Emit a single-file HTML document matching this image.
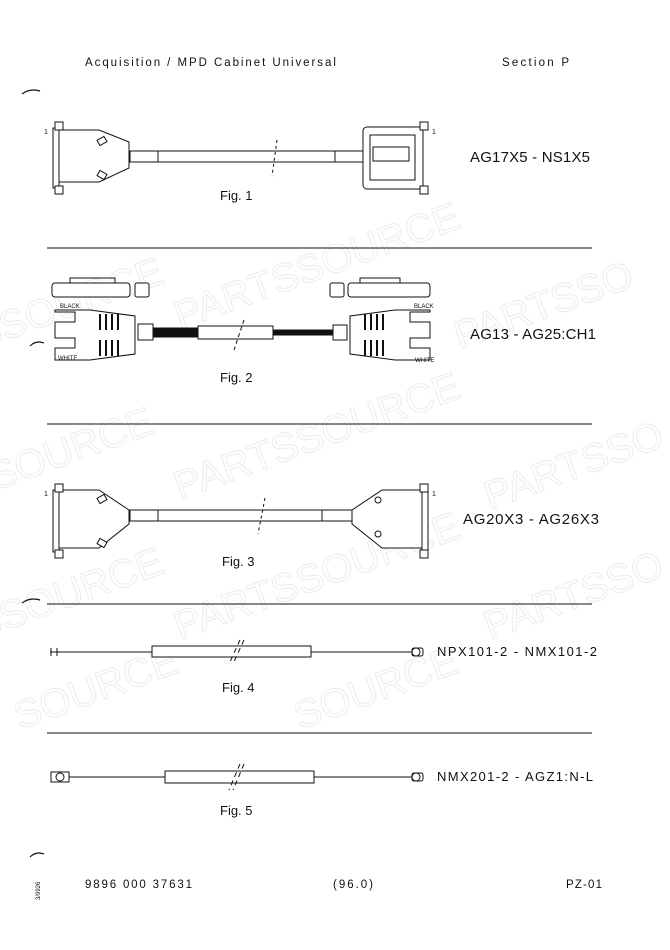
<!DOCTYPE html>
<html><head><meta charset="utf-8"><style>
html,body{margin:0;padding:0;background:#fff;}
svg{display:block}
text{font-family:"Liberation Sans",sans-serif;fill:#111}
.wm{fill:none;stroke:#ececec;stroke-width:1}
</style></head><body>
<svg width="670" height="950" viewBox="0 0 670 950" xmlns="http://www.w3.org/2000/svg">
<g font-size="40">
<text class="wm" x="-20" y="350" transform="rotate(-20 -20 350)">SSOURCE</text>
<text class="wm" x="180" y="330" transform="rotate(-20 180 330)">PARTSSOURCE</text>
<text class="wm" x="460" y="350" transform="rotate(-20 460 350)">PARTSSO</text>
<text class="wm" x="-30" y="500" transform="rotate(-20 -30 500)">SSOURCE</text>
<text class="wm" x="180" y="500" transform="rotate(-20 180 500)">PARTSSOURCE</text>
<text class="wm" x="490" y="510" transform="rotate(-20 490 510)">PARTSSO</text>
<text class="wm" x="-20" y="640" transform="rotate(-20 -20 640)">SSOURCE</text>
<text class="wm" x="180" y="640" transform="rotate(-20 180 640)">PARTSSOURCE</text>
<text class="wm" x="490" y="640" transform="rotate(-20 490 640)">PARTSSO</text>
<text class="wm" x="20" y="730" transform="rotate(-20 20 730)">SOURCE</text>
<text class="wm" x="300" y="730" transform="rotate(-20 300 730)">SOURCE</text>
</g>

<text x="85" y="66" font-size="11.5" letter-spacing="1.1" textLength="252">Acquisition / MPD Cabinet Universal</text>
<text x="502" y="66" font-size="11.5" letter-spacing="1" textLength="68">Section P</text>
<g stroke="#111" fill="none" stroke-width="1.2">
<path d="M22 94 q8 -6 18 -3"/><path d="M30 346 q6 -6 14 -3"/><path d="M22 603 q8 -6 18 -3"/><path d="M30 857 q6 -6 14 -3"/>
</g>

<!-- Fig 1 -->
<g stroke="#111" fill="#fff" stroke-width="1">
<rect x="53" y="128" width="6" height="60"/>
<path d="M59 130 h40 l30 12 v26 l-30 14 h-40 z"/>
<rect x="55" y="122" width="8" height="8"/><rect x="55" y="186" width="8" height="8"/>
<rect x="98" y="138" width="8" height="6" transform="rotate(-30 102 141)"/>
<rect x="98" y="172" width="8" height="6" transform="rotate(30 102 175)"/>
<rect x="130" y="151" width="28" height="11"/>
<rect x="158" y="151" width="207" height="11"/>
<rect x="335" y="151" width="30" height="11"/>
<rect x="363" y="127" width="60" height="62" rx="4"/>
<path d="M370 135 h45 v45 h-45 z"/>
<rect x="373" y="147" width="36" height="14"/>
<rect x="420" y="122" width="8" height="8"/><rect x="420" y="186" width="8" height="8"/>
<line x1="277" y1="140" x2="272" y2="176" stroke-dasharray="3 3"/>
</g>
<text x="44" y="134" font-size="7">1</text><text x="432" y="134" font-size="7">1</text>
<text x="470" y="162" font-size="15" textLength="120">AG17X5 - NS1X5</text>
<text x="220" y="200" font-size="13">Fig. 1</text>
<line x1="47" y1="248" x2="592" y2="248" stroke="#111" stroke-width="1"/>

<!-- Fig 2 -->
<g stroke="#111" fill="#fff" stroke-width="1">
<rect x="52" y="283" width="78" height="14" rx="3"/><rect x="135" y="283" width="14" height="14" rx="2"/>
<path d="M70 283 v-5 h45 v5" fill="none"/>
<rect x="330" y="283" width="14" height="14" rx="2"/><rect x="348" y="283" width="82" height="14" rx="3"/>
<path d="M360 283 v-5 h40 v5" fill="none"/>
<path d="M55 310 h35 l45 6 v38 l-45 6 h-35 v-12 h20 v-10 h-20 v-16 h20 v-10 h-20 z"/>
<rect x="138" y="324" width="15" height="16"/>
<rect x="153" y="328" width="45" height="9" fill="#111"/>
<rect x="198" y="326" width="75" height="13"/>
<rect x="273" y="330" width="68" height="5" fill="#111"/>
<rect x="333" y="325" width="14" height="15"/>
<path d="M430 310 h-35 l-45 6 v38 l45 6 h35 v-12 h-20 v-10 h20 v-16 h-20 v-10 h20 z"/>
<line x1="244" y1="320" x2="234" y2="350" stroke-dasharray="4 3"/>
</g>
<g stroke="#111" stroke-width="2">
<path d="M100 314 v16 M106 314 v16 M112 314 v16 M118 314 v16 M100 340 v16 M106 340 v16 M112 340 v16 M118 340 v16"/>
<path d="M365 314 v16 M371 314 v16 M377 314 v16 M383 314 v16 M365 340 v16 M371 340 v16 M377 340 v16 M383 340 v16"/>
</g>
<text x="60" y="308" font-size="6">BLACK</text><text x="414" y="308" font-size="6">BLACK</text>
<text x="58" y="360" font-size="6">WHITE</text><text x="415" y="362" font-size="6">WHITE</text>
<text x="470" y="339" font-size="15" textLength="126">AG13 - AG25:CH1</text>
<text x="220" y="382" font-size="13">Fig. 2</text>
<line x1="47" y1="424" x2="592" y2="424" stroke="#111" stroke-width="1"/>

<!-- Fig 3 -->
<g stroke="#111" fill="#fff" stroke-width="1">
<rect x="53" y="490" width="6" height="62"/>
<path d="M59 490 h40 l30 20 v14 l-30 24 h-40 z"/>
<rect x="55" y="484" width="8" height="8"/><rect x="55" y="550" width="8" height="8"/>
<rect x="98" y="496" width="8" height="6" transform="rotate(-30 102 499)"/>
<rect x="98" y="540" width="8" height="6" transform="rotate(30 102 543)"/>
<rect x="130" y="510" width="28" height="11"/>
<rect x="158" y="510" width="195" height="11"/>
<rect x="322" y="510" width="31" height="11"/>
<path d="M422 490 h-40 l-30 20 v14 l30 24 h40 z"/>
<rect x="422" y="490" width="6" height="62"/>
<rect x="420" y="484" width="8" height="8"/><rect x="420" y="550" width="8" height="8"/>
<circle cx="378" cy="500" r="3"/><circle cx="378" cy="534" r="3"/>
<line x1="265" y1="498" x2="258" y2="534" stroke-dasharray="3 3"/>
</g>
<text x="44" y="496" font-size="7">1</text><text x="432" y="496" font-size="7">1</text>
<text x="463" y="524" font-size="15" textLength="136">AG20X3 - AG26X3</text>
<text x="222" y="566" font-size="13">Fig. 3</text>
<line x1="47" y1="604" x2="592" y2="604" stroke="#111" stroke-width="1"/>

<!-- Fig 4 -->
<g stroke="#111" fill="#fff" stroke-width="1">
<line x1="50" y1="652" x2="412" y2="652"/><line x1="51" y1="648" x2="51" y2="656"/><line x1="57" y1="648" x2="57" y2="656"/>
<rect x="152" y="646" width="159" height="11"/>
<line x1="240" y1="640" x2="229" y2="664" stroke-dasharray="5 4"/>
<line x1="244" y1="640" x2="233" y2="664" stroke-dasharray="5 4"/>
<rect x="412" y="648" width="11" height="8" rx="2"/><circle cx="416" cy="652" r="4"/>
</g>
<text x="437" y="656" font-size="13" textLength="160">NPX101-2 - NMX101-2</text>
<text x="222" y="692" font-size="13">Fig. 4</text>
<line x1="47" y1="733" x2="592" y2="733" stroke="#111" stroke-width="1"/>

<!-- Fig 5 -->
<g stroke="#111" fill="#fff" stroke-width="1">
<rect x="51" y="772" width="18" height="10"/><circle cx="60" cy="777" r="4"/>
<line x1="69" y1="777" x2="412" y2="777"/>
<rect x="165" y="771" width="149" height="12"/>
<line x1="240" y1="764" x2="229" y2="790" stroke-dasharray="5 4"/>
<line x1="244" y1="764" x2="233" y2="790" stroke-dasharray="5 4"/>
<rect x="412" y="773" width="11" height="8" rx="2"/><circle cx="416" cy="777" r="4"/>
</g>
<text x="437" y="781" font-size="13" textLength="156">NMX201-2 - AGZ1:N-L</text>
<text x="220" y="815" font-size="13">Fig. 5</text>

<!-- footer -->
<text x="85" y="888" font-size="11.5" textLength="107">9896 000 37631</text>
<text x="333" y="888" font-size="11.5" textLength="40">(96.0)</text>
<text x="566" y="888" font-size="11.5" textLength="36">PZ-01</text>
<text x="40" y="900" font-size="6" transform="rotate(-90 40 900)">3/9926</text>
</svg>
</body></html>
